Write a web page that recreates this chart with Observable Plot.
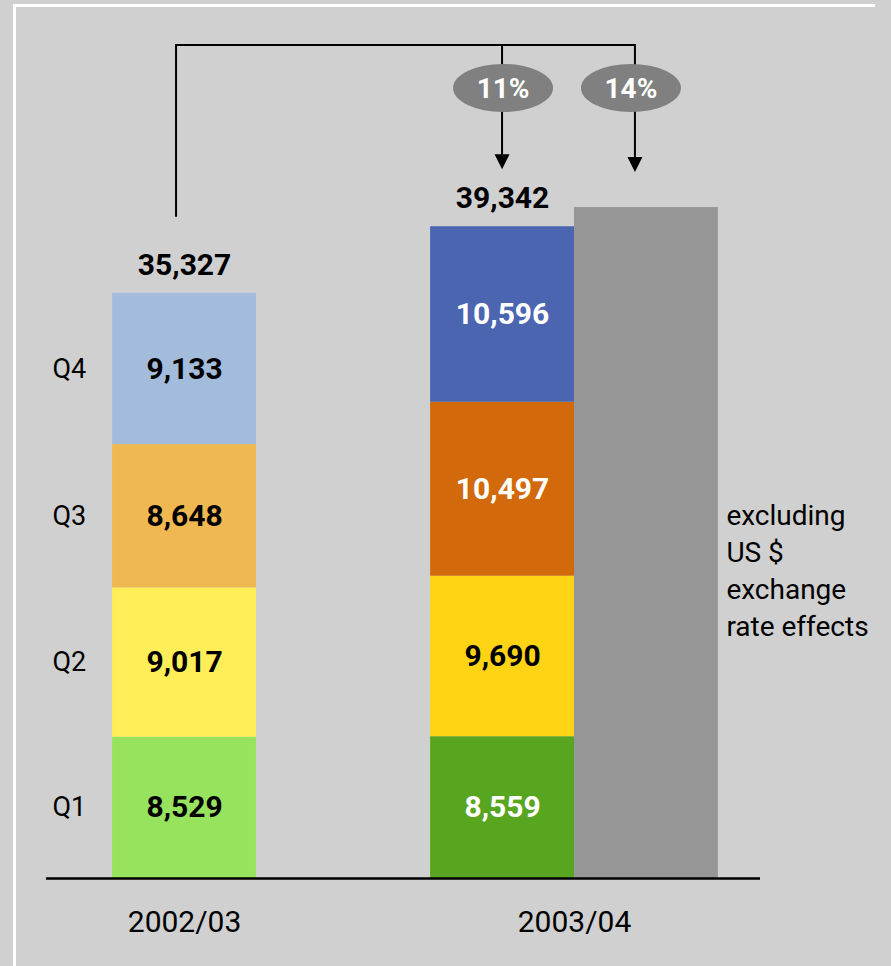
<!DOCTYPE html>
<html>
<head>
<meta charset="utf-8">
<script src="https://cdn.jsdelivr.net/npm/d3@7"></script>
<script src="https://cdn.jsdelivr.net/npm/@observablehq/plot@0.6"></script>
<style>
  html, body { margin: 0; padding: 0; background: #d0d0d0; }
  #wrap { position: relative; width: 891px; height: 966px; overflow: hidden; }
  #frame { position: absolute; left: 13px; top: 4px; width: 859px; height: 970px;
           border-top: 3px solid #fff; border-left: 3px solid #fff; pointer-events: none; }
  #chart svg { display: block; }
</style>
</head>
<body>
<div id="wrap"><div id="chart"></div><div id="frame"></div></div>
<script>
// ---- data ----
const years = ["2002/03", "2003/04"];
const quarters = ["Q1", "Q2", "Q3", "Q4"];
const values0203 = [8529, 9017, 8648, 9133];
const values0304 = [8559, 9690, 10497, 10596];
const totals = [35327, 39342];
const exclFx = 40500;               // 2003/04 excluding US $ exchange rate effects
const growth = ["11%", "14%"];
const exclNote = "excluding\nUS $\nexchange\nrate effects";

// ---- styles ----
const colors0203 = ["#98e35e", "#ffee58", "#f0b850", "#a4bcdc"];
const colors0304 = ["#58a520", "#ffd414", "#d2690a", "#4b65b0"];
const ink0203 = ["#000", "#000", "#000", "#000"];
const ink0304 = ["#fff", "#000", "#fff", "#fff"];
const greyBar = "#969696";
const BW = 0.369; // bar width in group units

const fmt = d3.format(",");
const rows = [];
years.forEach((yr, gi) => {
  const vals = gi === 0 ? values0203 : values0304;
  const cs = Array.from(d3.cumsum(vals));
  vals.forEach((v, qi) => rows.push({
    year: yr, quarter: quarters[qi], value: v,
    y1: cs[qi] - v, y2: cs[qi],
    x1: gi === 0 ? -BW / 2 : 1 - BW, x2: gi === 0 ? BW / 2 : 1,
    fill: (gi === 0 ? colors0203 : colors0304)[qi],
    ink: (gi === 0 ? ink0203 : ink0304)[qi]
  }));
});
const excl = [{x1: 1, x2: 1 + BW, y1: 0, y2: exclFx}];
const totalRows = totals.map((t, i) => ({x: i === 0 ? 0 : 1 - BW / 2, y: t, label: fmt(t)}));

const FONT = "Roboto, 'DejaVu Sans', sans-serif";

const plot = Plot.plot({
  width: 891, height: 966,
  marginTop: 0, marginBottom: 88, marginLeft: 46, marginRight: 131,
  x: {domain: [-0.354, 1.477], axis: null},
  y: {domain: [0, 53000], axis: null},
  color: {type: "identity"},
  style: {fontFamily: FONT, background: "transparent", color: "#000"},
  marks: [
    Plot.rect(rows, {x1: "x1", x2: "x2", y1: "y1", y2: "y2", fill: "fill"}),
    Plot.rect(excl, {x1: "x1", x2: "x2", y1: "y1", y2: "y2", fill: greyBar}),
    Plot.ruleY([0], {stroke: "#000", strokeWidth: 2.5}),
    Plot.text(rows, {x: d => (d.x1 + d.x2) / 2, y: d => (d.y1 + d.y2) / 2,
      text: d => fmt(d.value), fill: "ink", fontSize: 30, fontWeight: "bold"}),
    Plot.text(rows.filter(d => d.year === years[0]), {frameAnchor: "left", dx: 6,
      y: d => (d.y1 + d.y2) / 2, text: "quarter", textAnchor: "start", fontSize: 27, fill: "#000"}),
    Plot.text(totalRows, {x: "x", y: "y", dy: -28, text: "label", fontSize: 30, fontWeight: "bold", fill: "#000"}),
    Plot.text(years, {x: (d, i) => i, y: () => 0, dy: 44, text: d => d, fontSize: 30, fill: "#000"}),
    Plot.text([exclNote], {x: () => 1 + BW, y: () => exclFx / 2, dx: 8, dy: 26, text: d => d,
      textAnchor: "start", lineHeight: 1.32, fontSize: 28, fill: "#000"})
  ]
});

// ---- growth annotation (bracket, bubbles, arrows) ----
const xs = plot.scale("x"), ys = plot.scale("y");
const sx = v => xs.apply(v), sy = v => ys.apply(v);
const svg = d3.select(plot);
const g = svg.append("g").attr("fill", "none").attr("stroke", "#000").attr("stroke-width", 2);
const topY = 45, cy = 88, ry = 24, rx = 50;
const leftX = sx(0) - 8;
const a1 = sx(1 - BW / 2);
const a2 = sx(1 + BW / 2) - 11;
const legBottom = sy(totals[0]) - 76;
const tip1 = sy(totals[1]) - 57;
const tip2 = sy(exclFx) - 35;
g.append("path").attr("d", `M${leftX},${legBottom}V${topY}H${a2}V${cy}`);
g.append("path").attr("d", `M${a1},${topY}V${cy}`);
g.append("path").attr("d", `M${a1},${cy}V${tip1 - 12}`);
g.append("path").attr("d", `M${a2},${cy}V${tip2 - 12}`);
[[a1, tip1], [a2, tip2]].forEach(([x, t]) => {
  svg.append("path").attr("d", `M${x - 7.5},${t - 15}L${x + 7.5},${t - 15}L${x},${t}Z`).attr("fill", "#000");
});
[[a1 + 1, growth[0]], [a2 - 4, growth[1]]].forEach(([x, label]) => {
  svg.append("ellipse").attr("cx", x).attr("cy", cy).attr("rx", rx).attr("ry", ry).attr("fill", "#808080");
  svg.append("text").attr("x", x).attr("y", cy).attr("dy", "0.35em").attr("text-anchor", "middle")
    .attr("fill", "#fff").attr("font-weight", "bold").attr("font-size", 28).attr("font-family", FONT).text(label);
});

document.getElementById("chart").appendChild(plot);
</script>
</body>
</html>
